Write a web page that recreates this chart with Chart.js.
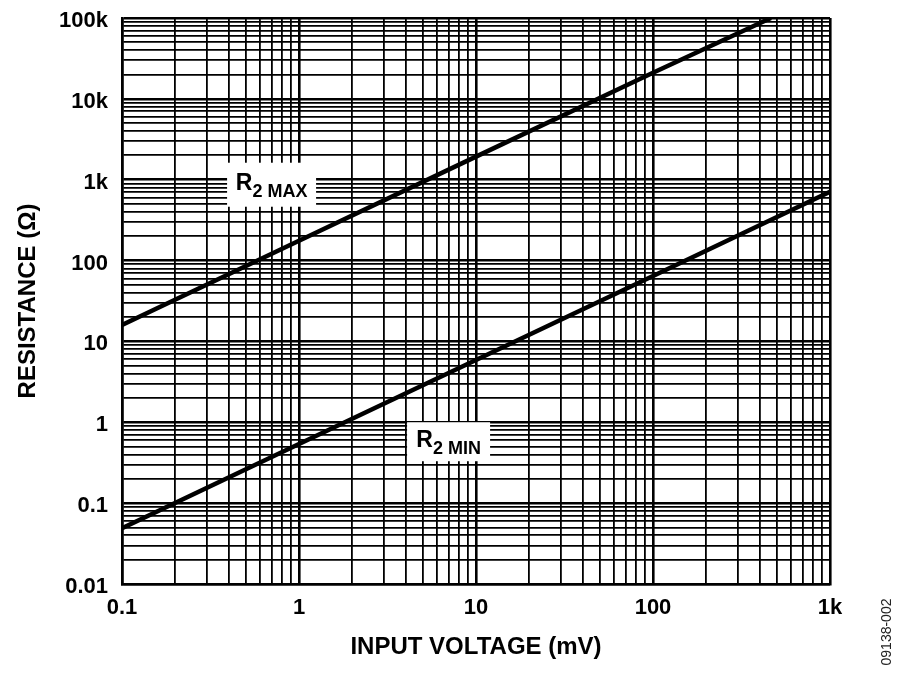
<!DOCTYPE html>
<html>
<head>
<meta charset="utf-8">
<script src="https://cdn.jsdelivr.net/npm/chart.js@4/dist/chart.umd.min.js"></script>
<style>
  body { margin: 0; background: #fff; }
  canvas { display: block; }
</style>
</head>
<body>
<canvas id="chart" width="900" height="678"></canvas>
<script>
// input voltage (mV) and resistance (ohm)
var vinMax = [0.1, 1, 10, 100, 464];
var r2Max = [16, 176, 1930, 21000, 100000];
var vinMin = [0.1, 1, 10, 100, 1000];
var r2Min = [0.049, 0.54, 5.9, 64.5, 710];

var xTickValues = [0.1, 1, 10, 100, 1000];
var xTickLabels = ['0.1', '1', '10', '100', '1k'];
var yTickValues = [0.01, 0.1, 1, 10, 100, 1000, 10000, 100000];
var yTickLabels = ['0.01', '0.1', '1', '10', '100', '1k', '10k', '100k'];

var FONT = "'Liberation Sans', Arial, sans-serif";

function gridValues(decades) {
  var out = [];
  for (var i = 0; i < decades.length; i++) {
    if (i == decades.length - 1) { out.push(decades[i]); break; }
    for (var m = 1; m <= 9; m++) out.push(decades[i] * m);
  }
  return out;
}

function decadeIndex(v, decades) {
  for (var i = 0; i < decades.length; i++) {
    if (Math.abs(v / decades[i] - 1) < 1e-6) return i;
  }
  return -1;
}

function points(xs, ys) {
  return xs.map(function(x, i) { return {x: x, y: ys[i]}; });
}

var xGrid = gridValues(xTickValues);
var yGrid = gridValues(yTickValues);

// white-boxed series labels, placed in data coordinates
var labelPlugin = {
  id: 'seriesLabels',
  afterDatasetsDraw: function(chart) {
    var ctx = chart.ctx;
    var xs = chart.scales.x, ys = chart.scales.y;
    var items = [
      {x: 0.70, y: 867, sub: 'MAX', w: 89, h: 44},
      {x: 7.0, y: 0.575, sub: 'MIN', w: 83, h: 39}
    ];
    ctx.save();
    items.forEach(function(it) {
      var cx = xs.getPixelForValue(it.x);
      var cy = ys.getPixelForValue(it.y);
      ctx.fillStyle = '#fff';
      ctx.fillRect(cx - it.w / 2, cy - it.h / 2, it.w, it.h);
      ctx.fillStyle = '#000';
      ctx.textBaseline = 'alphabetic';
      ctx.font = 'bold 23px ' + FONT;
      var wR = ctx.measureText('R').width;
      ctx.font = 'bold 18px ' + FONT;
      var wS = ctx.measureText('2 ' + it.sub).width;
      var x0 = cx - (wR + wS) / 2;
      ctx.font = 'bold 23px ' + FONT;
      ctx.fillText('R', x0, cy + 5);
      ctx.font = 'bold 18px ' + FONT;
      ctx.fillText('2 ' + it.sub, x0 + wR, cy + 12);
    });
    // figure number along the right edge
    ctx.translate(887, 632);
    ctx.rotate(-Math.PI / 2);
    ctx.font = '14px ' + FONT;
    ctx.fillStyle = '#222';
    ctx.textAlign = 'center';
    ctx.textBaseline = 'middle';
    ctx.fillText('09138-002', 0, 0);
    ctx.restore();
  }
};

var ctx = document.getElementById('chart');
var chart = new Chart(ctx, {
  type: 'line',
  data: {
    datasets: [{
      label: 'R2 MAX',
      data: points(vinMax, r2Max),
      borderColor: '#000',
      borderWidth: 4.5,
      pointRadius: 0,
      tension: 0
    }, {
      label: 'R2 MIN',
      data: points(vinMin, r2Min),
      borderColor: '#000',
      borderWidth: 4.5,
      pointRadius: 0,
      tension: 0
    }]
  },
  options: {
    responsive: false,
    animation: false,
    layout: { padding: { left: 0, right: 70, top: 18, bottom: 0 } },
    plugins: {
      legend: { display: false },
      tooltip: { enabled: false }
    },
    scales: {
      x: {
        type: 'logarithmic',
        min: 0.1,
        max: 1000,
        afterBuildTicks: function(scale) {
          scale.ticks = xGrid.map(function(v) { return {value: v}; });
        },
        afterFit: function(scale) {
          scale.height = 94;
          scale.paddingLeft = 0;
          scale.paddingRight = 0;
        },
        grid: {
          color: '#000',
          drawTicks: false,
          lineWidth: function(c) {
            return c.tick && decadeIndex(c.tick.value, xTickValues) >= 0 ? 2.6 : 1.8;
          }
        },
        border: { color: '#000', width: 2.5 },
        ticks: {
          autoSkip: false,
          maxRotation: 0,
          padding: 11,
          color: '#000',
          font: { family: FONT, size: 22, weight: 'bold' },
          callback: function(v) {
            var i = decadeIndex(v, xTickValues);
            return i >= 0 ? xTickLabels[i] : '';
          }
        },
        title: {
          display: true,
          text: 'INPUT VOLTAGE (mV)',
          color: '#000',
          font: { family: FONT, size: 24, weight: 'bold' },
          padding: { top: 0, bottom: 16 }
        }
      },
      y: {
        type: 'logarithmic',
        min: 0.01,
        max: 100000,
        afterBuildTicks: function(scale) {
          scale.ticks = yGrid.map(function(v) { return {value: v}; });
        },
        afterFit: function(scale) {
          scale.width = 122;
          scale.paddingTop = 0;
          scale.paddingBottom = 0;
        },
        grid: {
          color: '#000',
          drawTicks: false,
          lineWidth: function(c) {
            return c.tick && decadeIndex(c.tick.value, yTickValues) >= 0 ? 2.6 : 1.8;
          }
        },
        border: { color: '#000', width: 2.5 },
        ticks: {
          autoSkip: false,
          padding: 14,
          labelOffset: 3,
          color: '#000',
          font: { family: FONT, size: 22, weight: 'bold' },
          callback: function(v) {
            var i = decadeIndex(v, yTickValues);
            return i >= 0 ? yTickLabels[i] : '';
          }
        },
        title: {
          display: true,
          text: 'RESISTANCE (Ω)',
          color: '#000',
          font: { family: FONT, size: 24, weight: 'bold' },
          padding: { top: 14, bottom: 0 }
        }
      }
    }
  },
  plugins: [labelPlugin]
});
</script>
</body>
</html>
